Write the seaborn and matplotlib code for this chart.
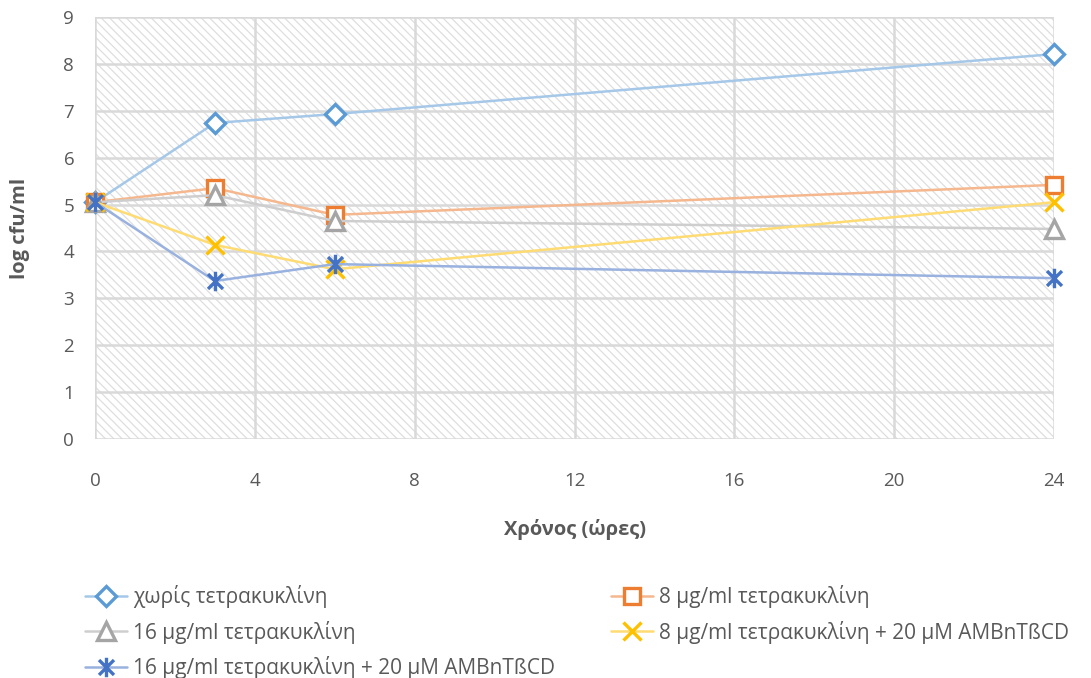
import matplotlib
matplotlib.use("Agg")
import matplotlib.pyplot as plt
import seaborn as sns
from matplotlib.path import Path
from matplotlib.lines import Line2D
from matplotlib.colors import to_rgb
from matplotlib.legend_handler import HandlerTuple

sns.set_theme(style="white")
plt.rcParams['font.family'] = ['Open Sans', 'DejaVu Sans']
plt.rcParams['hatch.color'] = '#dedede'
plt.rcParams['hatch.linewidth'] = 0.9

# Time points (hours)
hours = [0, 3, 6, 24]

# log cfu/ml per treatment
no_tetra = [5.05, 6.74, 6.93, 8.21]
tetra_8 = [5.05, 5.35, 4.78, 5.42]
tetra_16 = [5.05, 5.20, 4.65, 4.48]
tetra_8_amb = [5.05, 4.14, 3.62, 5.05]
tetra_16_amb = [5.05, 3.37, 3.73, 3.43]

labels = [
    "χωρίς τετρακυκλίνη",
    "8 μg/ml τετρακυκλίνη",
    "16 μg/ml τετρακυκλίνη",
    "8 μg/ml τετρακυκλίνη + 20 μM AMBnTßCD",
    "16 μg/ml τετρακυκλίνη + 20 μM AMBnTßCD",
]

x_ticks = [0, 4, 8, 12, 16, 20, 24]
y_ticks = list(range(0, 10))

colors = ["#5B9BD5", "#ED7D31", "#A5A5A5", "#FFC000", "#4472C4"]

# asterisk marker: an X with a vertical stroke
asterisk = Path(
    [(-1, -1), (1, 1), (-1, 1), (1, -1), (0, -1.3), (0, 1.3)],
    [Path.MOVETO, Path.LINETO, Path.MOVETO, Path.LINETO, Path.MOVETO, Path.LINETO],
)
markers = ["D", "s", "^", "x", asterisk]
sizes = [10, 12, 13, 13, 14]
faces = ["white", "white", "white", "none", "none"]


def lighten(c, f=0.45):
    r, g, b = to_rgb(c)
    return (r + (1 - r) * f, g + (1 - g) * f, b + (1 - b) * f)


fig = plt.figure(figsize=(10.91, 6.78), dpi=100)
ax = fig.add_axes([95 / 1091, 1 - 439 / 678, (1054 - 95) / 1091, (439 - 17) / 678])

ax.patch.set_facecolor("white")
ax.patch.set_hatch("\\\\\\\\")
ax.patch.set_edgecolor("#dedede")
ax.patch.set_linewidth(0)

series = [no_tetra, tetra_8, tetra_16, tetra_8_amb, tetra_16_amb]
handles = []
for vals, lab, c, m, ms, fc in zip(series, labels, colors, markers, sizes, faces):
    sns.lineplot(
        x=hours, y=vals, ax=ax, color=lighten(c), linewidth=1.8,
        marker=m, markersize=ms, markeredgecolor=c, markerfacecolor=fc,
        markeredgewidth=2.4, legend=False, clip_on=False, zorder=3,
    )
    line_h = Line2D([], [], color=lighten(c), linewidth=1.8)
    mark_h = Line2D([], [], linestyle="none", marker=m, markersize=ms,
                    markeredgecolor=c, markerfacecolor=fc, markeredgewidth=2.4)
    handles.append((line_h, mark_h))

ax.set_xlim(0, 24)
ax.set_ylim(0, 9)
ax.set_xticks(x_ticks)
ax.set_yticks(y_ticks)
ax.grid(True, color="#d9d9d9", linewidth=1.8)
ax.set_axisbelow(True)
for s in ax.spines.values():
    s.set_visible(False)
ax.tick_params(axis="x", length=0, pad=24, labelsize=13.5, labelcolor="#595959")
ax.tick_params(axis="y", length=0, pad=15, labelsize=13.5, labelcolor="#595959")

ax.set_xlabel("Χρόνος (ώρες)", fontsize=14.5, fontweight="bold", color="#595959", labelpad=21)
ax.set_ylabel("log cfu/ml", fontsize=14.5, fontweight="bold", color="#595959", labelpad=24)

# row-major ordering for a two-column legend
order = [0, 2, 4, 1, 3]
fig.legend(
    [handles[i] for i in order], [labels[i] for i in order],
    handler_map={tuple: HandlerTuple(ndivide=1, pad=0)},
    loc="upper left", bbox_to_anchor=(85 / 1091, 1 - 585 / 678),
    ncol=2, frameon=False, fontsize=15, labelcolor="#595959",
    handlelength=2.0, handletextpad=0.3, columnspacing=2.7, labelspacing=0.6,
    borderpad=0, borderaxespad=0,
)

fig.savefig("out.png", dpi=100)
